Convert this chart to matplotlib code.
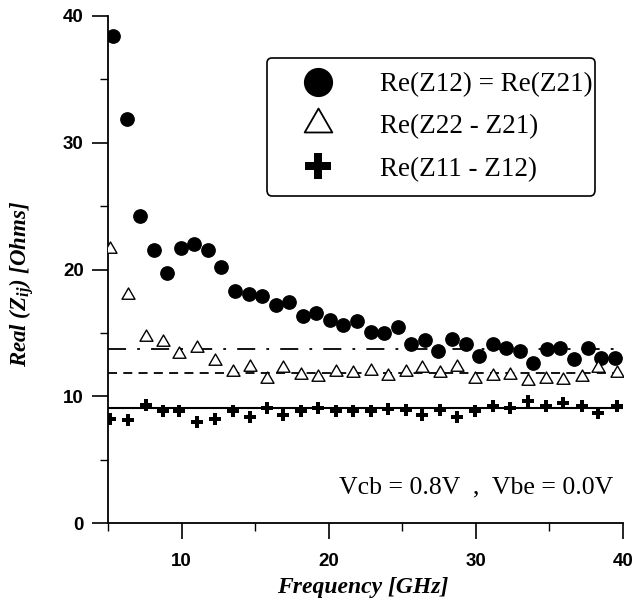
import matplotlib
matplotlib.use('Agg')
import matplotlib.pyplot as plt
from matplotlib.lines import Line2D
from matplotlib.path import Path
from matplotlib.ticker import MultipleLocator

# ---------------- data ----------------
# Re(Z12) = Re(Z21), filled circles
freq_circ = [5.34, 6.26, 7.18, 8.10, 9.03, 9.95, 10.87, 11.79, 12.71, 13.63,
             14.55, 15.47, 16.40, 17.32, 18.24, 19.16, 20.08, 21.00, 21.92, 22.85,
             23.77, 24.69, 25.61, 26.53, 27.45, 28.37, 29.30, 30.22, 31.14, 32.06,
             32.98, 33.90, 34.82, 35.75, 36.67, 37.59, 38.51, 39.43]
re_z12 = [38.4, 31.9, 24.2, 21.5, 19.7, 21.7, 22.0, 21.5, 20.2, 18.3,
          18.1, 17.9, 17.2, 17.4, 16.3, 16.6, 16.0, 15.6, 15.9, 15.1,
          15.0, 15.5, 14.1, 14.4, 13.6, 14.5, 14.1, 13.2, 14.1, 13.8,
          13.6, 12.6, 13.7, 13.8, 12.9, 13.8, 13.0, 13.0]

# triangles and crosses share one frequency grid
freq_tri = [5.14, 6.36, 7.59, 8.74, 9.83, 11.05, 12.28, 13.50, 14.66, 15.82,
            16.90, 18.13, 19.29, 20.51, 21.67, 22.89, 24.05, 25.27, 26.36, 27.59,
            28.74, 29.97, 31.19, 32.35, 33.57, 34.80, 35.95, 37.18, 38.33, 39.56]
re_z22_z21 = [21.6, 18.0, 14.7, 14.3, 13.3, 13.8, 12.8, 11.9, 12.3, 11.4,
              12.2, 11.7, 11.5, 11.9, 11.8, 12.0, 11.6, 11.9, 12.2, 11.8,
              12.3, 11.4, 11.6, 11.7, 11.2, 11.4, 11.3, 11.5, 12.2, 11.8]
re_z11_z12 = [8.2, 8.1, 9.3, 8.8, 8.8, 8.0, 8.2, 8.8, 8.4, 9.1,
              8.5, 8.8, 9.1, 8.8, 8.85, 8.8, 9.0, 8.9, 8.5, 8.9,
              8.4, 8.8, 9.2, 9.1, 9.6, 9.2, 9.5, 9.2, 8.7, 9.2]

# horizontal fitted levels (value, end frequency)
fit_z12 = 13.7
fit_z22 = 11.8
fit_z11 = 9.05
fit_start = 5.0
fit_end = [39.4, 39.6, 40.0]

labels = ['Re(Z12) = Re(Z21)', 'Re(Z22 - Z21)', 'Re(Z11 - Z12)']

# ---------------- styling ----------------
plt.rcParams['lines.scale_dashes'] = False
plt.rcParams['mathtext.fontset'] = 'custom'
plt.rcParams['mathtext.it'] = 'Liberation Serif:italic:bold'
plt.rcParams['mathtext.rm'] = 'Liberation Serif:bold'

# open triangle, roughly equilateral
tri = Path([(-1, -0.577), (1, -0.577), (0, 1.155), (-1, -0.577)], closed=True)

fig = plt.figure(figsize=(6.34, 6.02), dpi=100)
ax = fig.add_axes([108/634, 1 - 523/602, 515/634, 507/602])

ax.plot([fit_start, fit_end[0]], [fit_z12, fit_z12], color='black', lw=1.3,
        dashes=(13, 8, 2, 8), zorder=1)
ax.plot([fit_start, fit_end[1]], [fit_z22, fit_z22], color='black', lw=1.3,
        dashes=(6.5, 4.5), zorder=1)
ax.plot([fit_start, fit_end[2]], [fit_z11, fit_z11], color='black', lw=1.5,
        zorder=1)

ax.plot(freq_circ, re_z12, ls='none', marker='o', ms=9.6, color='black',
        mec='black', zorder=3)
ax.plot(freq_tri, re_z22_z21, ls='none', marker=tri, ms=10.8, mfc='white',
        mec='black', mew=1.0, zorder=3)
ax.plot(freq_tri, re_z11_z12, ls='none', marker='P', ms=8.6, color='black',
        mew=0, zorder=3)

ax.set_xlim(5, 40)
ax.set_ylim(0, 40)
ax.xaxis.set_major_locator(MultipleLocator(10))
ax.xaxis.set_minor_locator(MultipleLocator(5))
ax.yaxis.set_major_locator(MultipleLocator(10))
ax.yaxis.set_minor_locator(MultipleLocator(5))

for s in ['top', 'right']:
    ax.spines[s].set_visible(False)
for s in ['left', 'bottom']:
    ax.spines[s].set_linewidth(1.3)

ax.tick_params(which='major', length=11.5, width=1.2, direction='out')
ax.tick_params(which='minor', length=5.8, width=1.0, direction='out')
ax.tick_params(axis='x', which='major', pad=10)
ax.tick_params(axis='y', which='major', pad=6)
for lab in ax.get_xticklabels() + ax.get_yticklabels():
    lab.set_fontfamily('Liberation Sans')
    lab.set_fontweight('bold')
    lab.set_fontsize(13.5)

fig.text(363/634, 1 - 587/602, 'Frequency [GHz]', ha='center', va='center',
         family='Liberation Serif', style='italic', weight='bold', fontsize=17)
fig.text(22/634, 1 - 284/602, 'Real (Z$_{ij}$) [Ohms]', ha='center', va='center',
         rotation=90, family='Liberation Serif', style='italic', weight='bold',
         fontsize=16.5)

ax.text(30.0, 2.8, 'Vcb = 0.8V  ,  Vbe = 0.0V', ha='center', va='center',
        family='Liberation Serif', fontsize=18.5)

handles = [
    Line2D([], [], ls='none', marker='o', ms=20, color='black'),
    Line2D([], [], ls='none', marker=tri, ms=23, mfc='white', mec='black', mew=1.3),
    Line2D([], [], ls='none', marker='P', ms=19, color='black', mew=0),
]
# legend box spans pixels x 267..595, y 58..198
lx0 = (267 - 108) / 515
lw_ = (595 - 267) / 515
ly1 = (523 - 58) / 507
lh = (198 - 58) / 507
leg = ax.legend(handles, labels, loc='upper left',
                bbox_to_anchor=(lx0, ly1 - lh, lw_, lh), mode='expand',
                borderaxespad=0, frameon=True, fancybox=True, framealpha=1,
                edgecolor='black', handlelength=2.7, handletextpad=0.95,
                borderpad=0.52, labelspacing=0.64,
                prop={'family': 'Liberation Serif', 'size': 19.5})
leg.get_frame().set_linewidth(1.2)

fig.savefig('out.png', dpi=100)
